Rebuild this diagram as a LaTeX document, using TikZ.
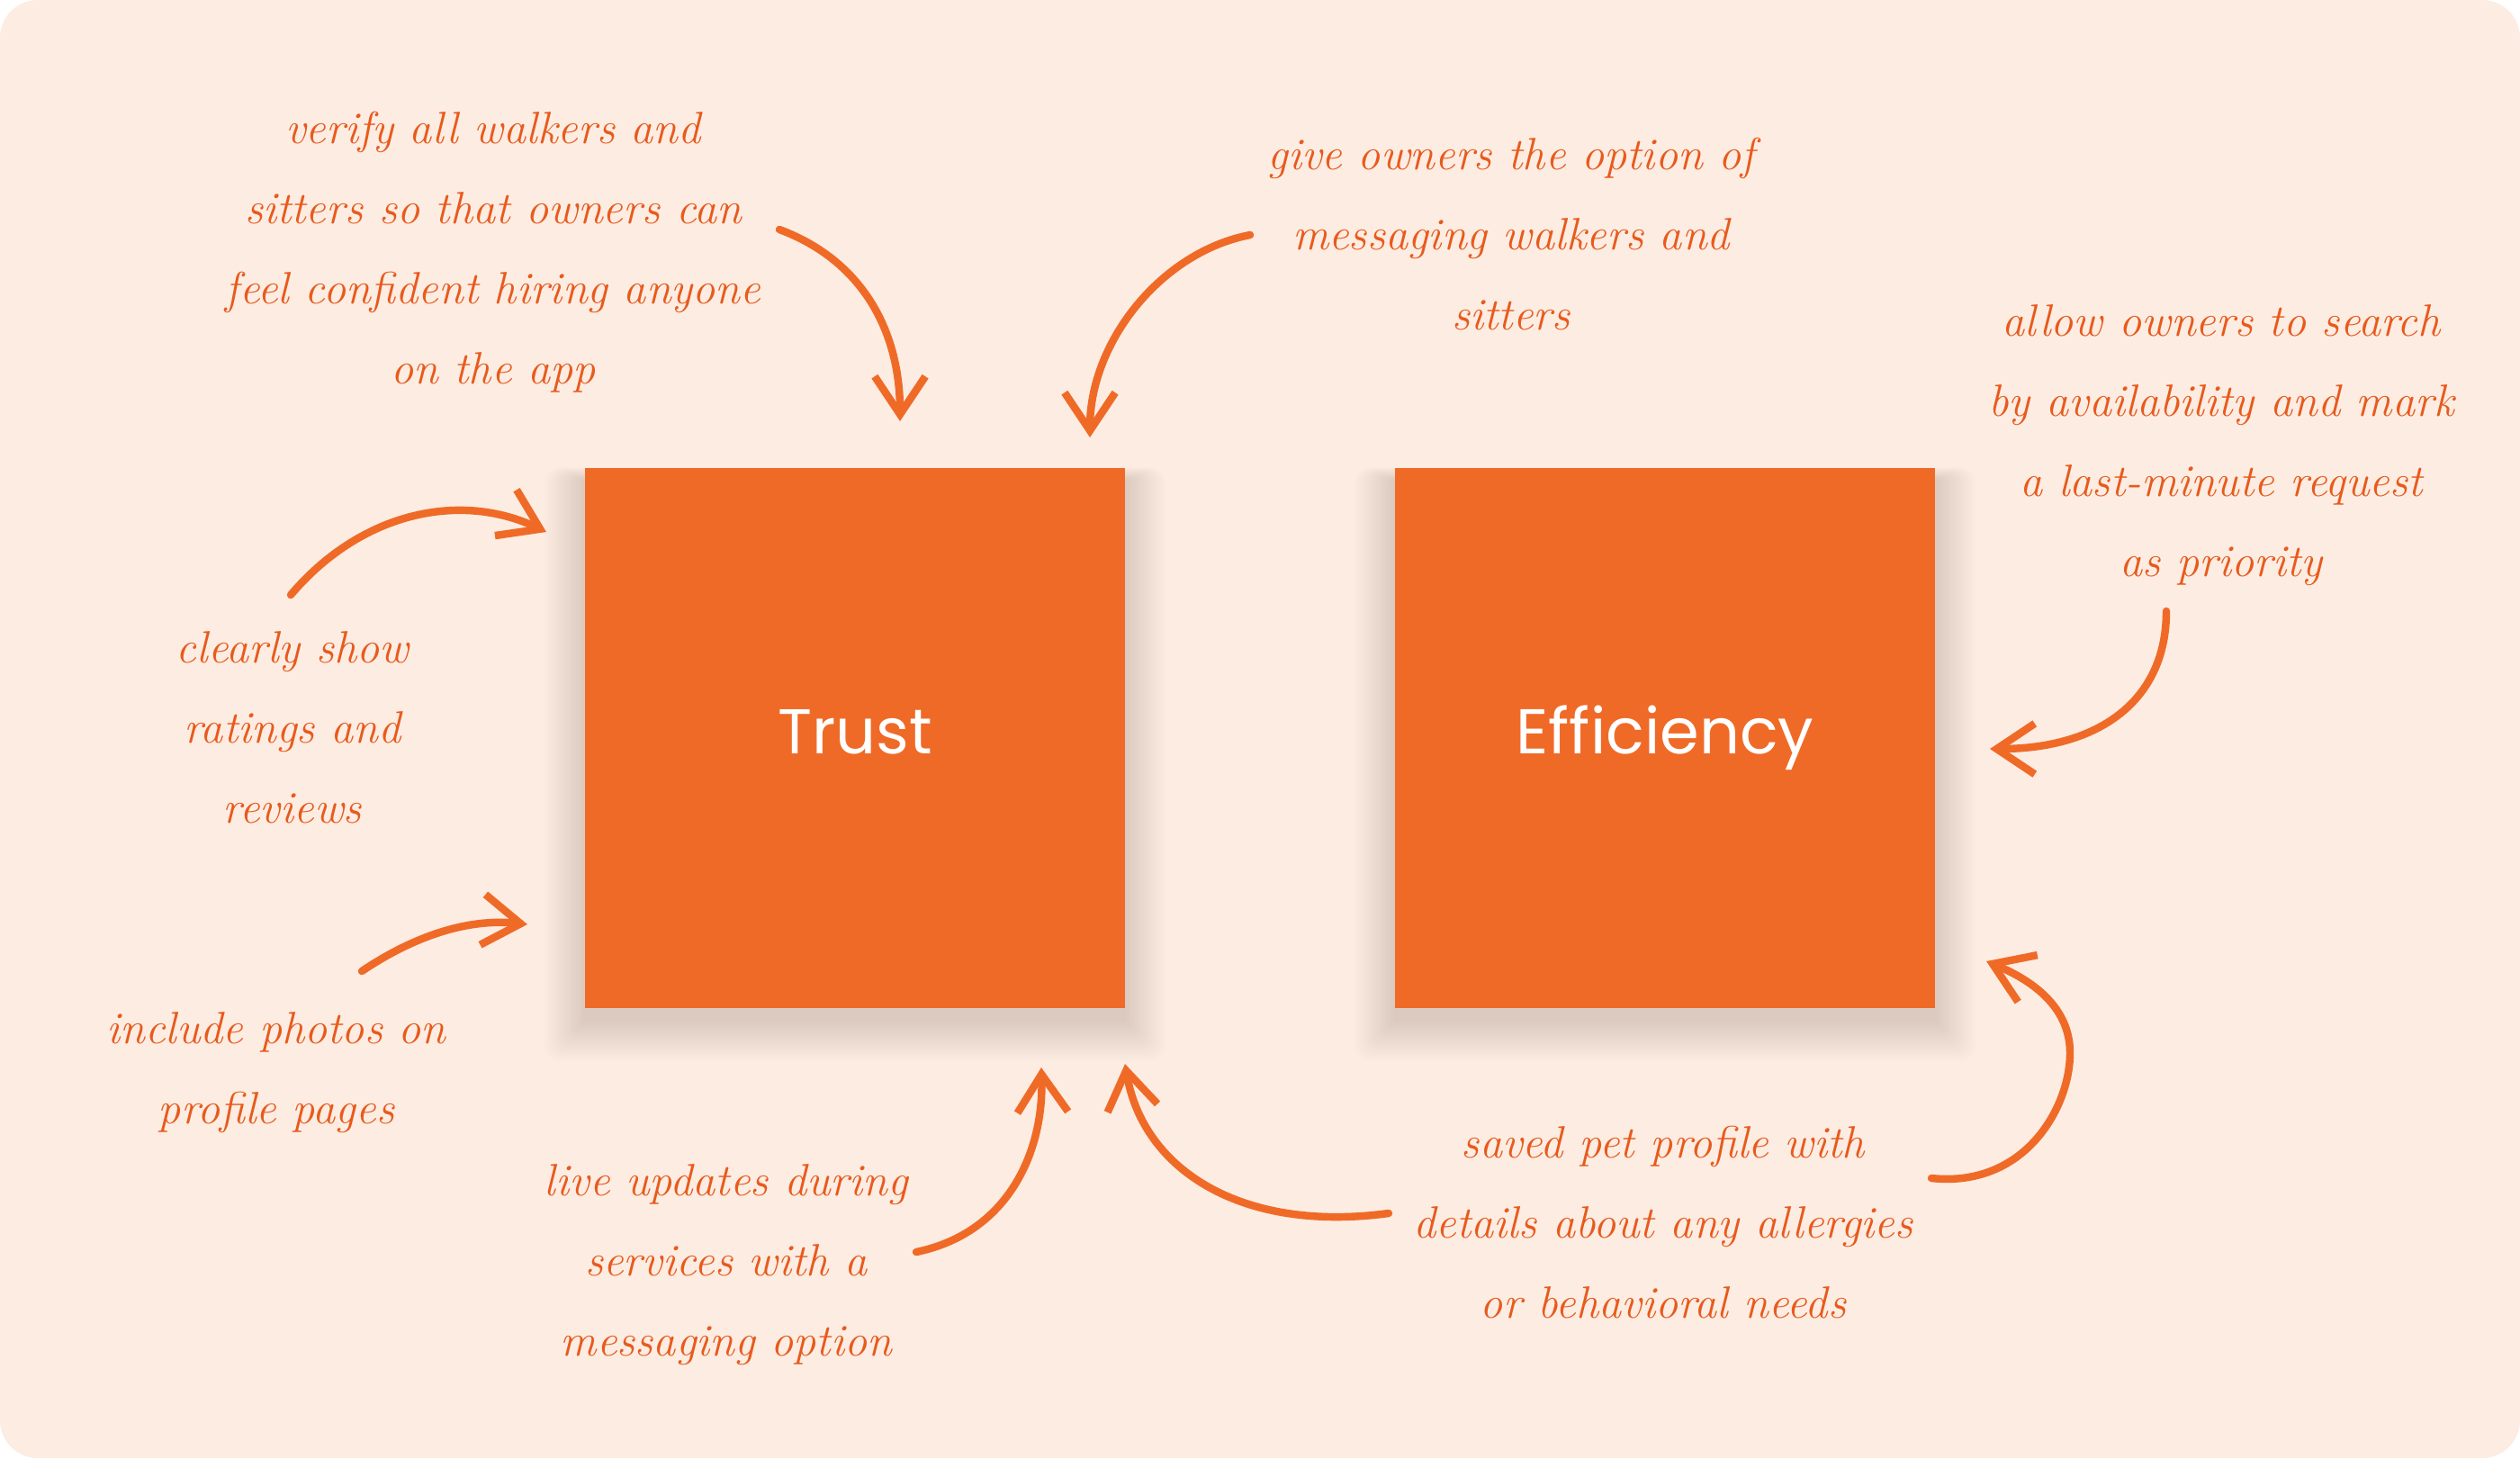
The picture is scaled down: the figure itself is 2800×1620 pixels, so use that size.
\documentclass[tikz,border=0pt]{standalone}
\usepackage{fontspec}
\newfontfamily\boxfont{Poppins}
\usetikzlibrary{arrows.meta}
\definecolor{bgpeach}{HTML}{FCECE2}
\definecolor{boxorange}{HTML}{F06A27}
\definecolor{inkorange}{HTML}{E85A1C}
\definecolor{shadowtone}{HTML}{8A5A40}
\tikzset{
  keybox/.style={fill=boxorange, draw=none, minimum width=6cm, minimum height=6cm, inner sep=0pt,
    text=white, font=\boxfont\fontsize{20}{24}\selectfont},
  note/.style={text=inkorange, align=center, inner sep=2pt,
    font=\itshape\fontsize{14.3}{25.3}\selectfont},
  pointer/.style={draw=boxorange, line width=2.4pt, line cap=round,
    -{Straight Barb[length=12pt, width=16pt, line width=2.4pt]}},
  softshadow/.style={fill=shadowtone, fill opacity=0.011, draw=none}
}
\begin{document}
\begin{tikzpicture}[x=0.01cm, y=-0.01cm]
  % canvas
  \fill[white] (0,0) rectangle (2800,1620);
  \fill[bgpeach, rounded corners=12pt] (0,0) rectangle (2800,1620);
  \useasboundingbox (0,0) rectangle (2800,1620);

  % soft shadows under the boxes
  \foreach \cx in {950,1850}{
    \foreach \g in {2,5,...,50}{
      \fill[softshadow, rounded corners=\g*0.1pt]
        (\cx-300-\g*0.9, 520-\g*0.3+14) rectangle (\cx+300+\g*0.9, 1120+\g*0.9+14);
    }
  }

  % key boxes
  \node[keybox] (trust) at (950,820) {\vphantom{fy}Trust};
  \node[keybox] (eff) at (1850,820) {\vphantom{fy}Efficiency};

  % notes
  \node[note] (verify) at (548,280) {verify all walkers and\\sitters so that owners can\\feel confident hiring anyone\\on the app};
  \node[note] (give) at (1679,260) {give owners the option of\\messaging walkers and\\sitters};
  \node[note] (allow) at (2468,495) {allow owners to search\\by availability and mark\\a last-minute request\\as priority};
  \node[note] (clearly) at (325,808) {clearly show\\ratings and\\reviews};
  \node[note] (photos) at (307,1192) {include photos on\\profile pages};
  \node[note] (live) at (807,1405) {live updates during\\services with a\\messaging option};
  \node[note] (saved) at (1848,1358) {saved pet profile with\\details about any allergies\\or behavioral needs};

  % anchor points for connectors
  \coordinate (a1s) at (866,255);   \coordinate (a1e) at (1000,468);
  \coordinate (a2s) at (1389,261);  \coordinate (a2e) at (1211,486);
  \coordinate (a3s) at (2407,679);  \coordinate (a3e) at (2211,832);
  \coordinate (a4s) at (323,661);   \coordinate (a4e) at (607,591);
  \coordinate (a5s) at (402,1079);  \coordinate (a5e) at (586,1027);
  \coordinate (a6s) at (1018,1391); \coordinate (a6e) at (1157,1186);
  \coordinate (a7s) at (1543,1348); \coordinate (a7e) at (1250,1182);
  \coordinate (a8s) at (2146,1309); \coordinate (a8e) at (2207,1068);

  % connectors
  \draw[pointer] (a1s) .. controls (960,290) and (1000,370) .. (a1e);
  \draw[pointer] (a2s) .. controls (1290,280) and (1211,380) .. (a2e);
  \draw[pointer] (a3s) .. controls (2407,780) and (2330,832) .. (a3e);
  \draw[pointer] (a4s) .. controls (400,570) and (510,545) .. (a4e);
  \draw[pointer] (a5s) .. controls (460,1040) and (520,1020) .. (a5e);
  \draw[pointer] (a6s) .. controls (1120,1370) and (1160,1280) .. (a6e);
  \draw[pointer] (a7s) .. controls (1380,1370) and (1270,1300) .. (a7e);
  \draw[pointer] (a8s) .. controls (2250,1320) and (2300,1230) .. (2300,1170)
                       .. controls (2300,1120) and (2260,1090) .. (a8e);
\end{tikzpicture}
\end{document}
